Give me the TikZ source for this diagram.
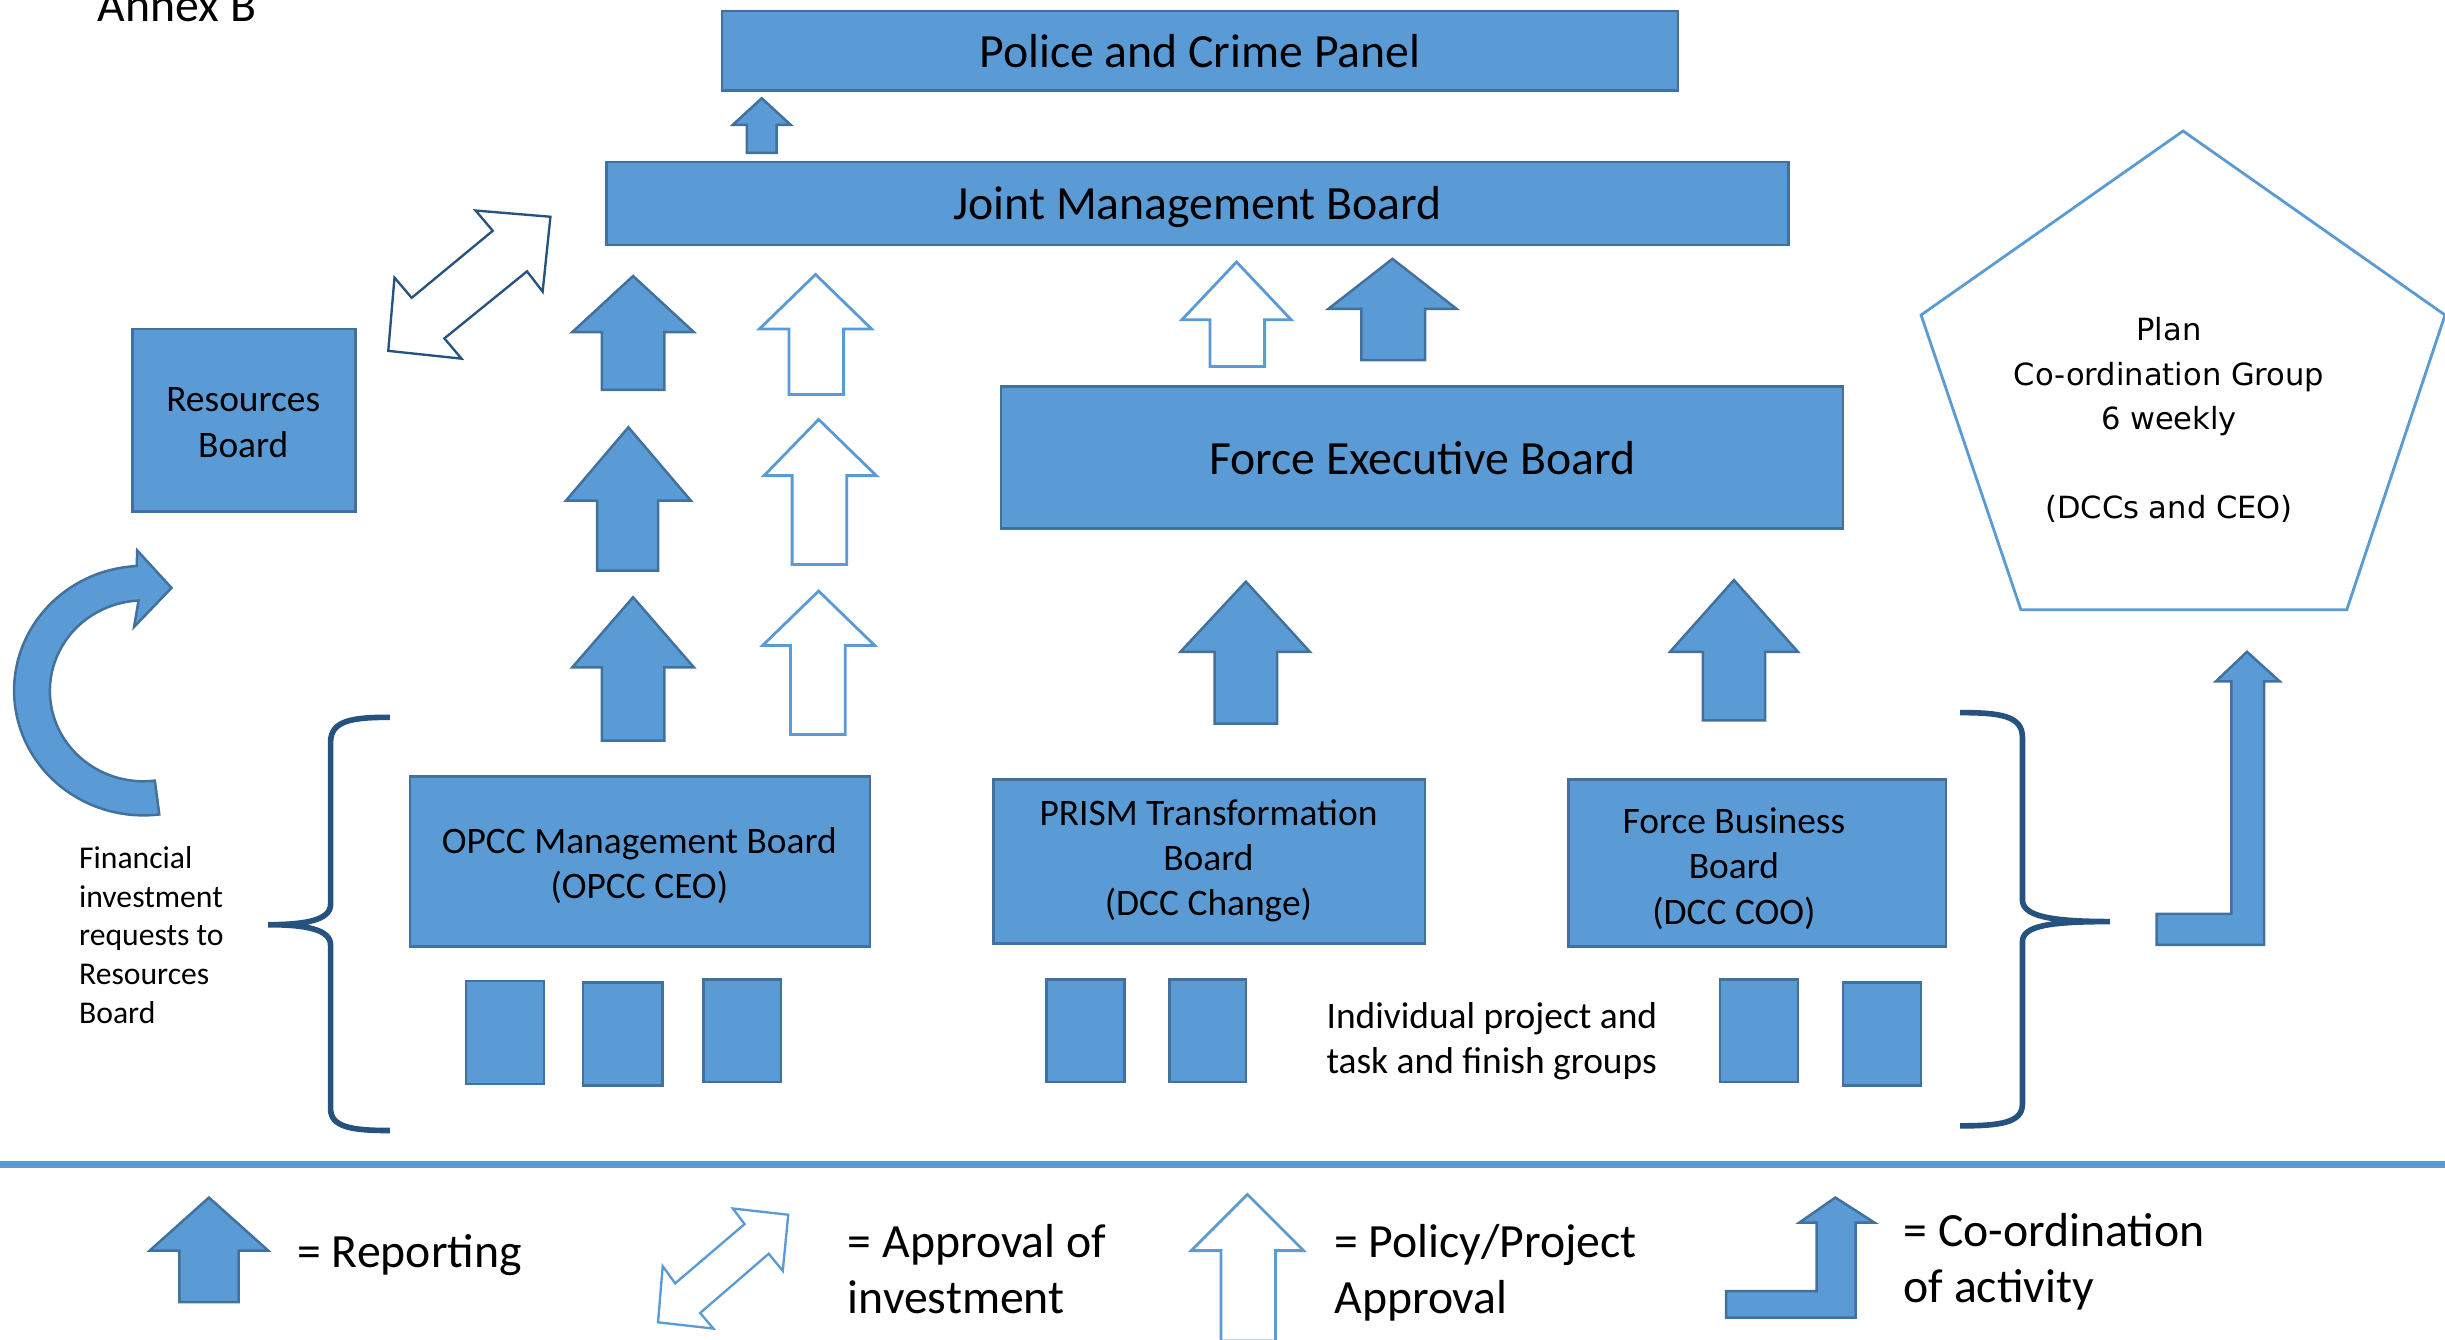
\documentclass[tikz,border=0pt]{standalone}
\usepackage{fontspec}
\setmainfont{Carlito}
\newfontfamily\planfont{DejaVu Sans}

\definecolor{boardblue}{RGB}{91,155,213}
\definecolor{boardedge}{RGB}{65,113,156}
\definecolor{bracenavy}{RGB}{38,82,128}

\tikzset{every picture/.style={line width=0.75pt},
	boardbox/.style={fill=boardblue, draw=boardedge, line width=0.8pt},
	reportarrow/.style={fill=boardblue, draw=boardedge, line width=0.8pt, line join=miter},
	policyarrow/.style={fill=white, draw=boardblue, line width=0.9pt},
	investarrow/.style={fill=white, draw=bracenavy, line width=0.75pt},
	bracket/.style={draw=bracenavy, line width=1.8pt},
	bigtext/.style={inner sep=0pt, font=\fontsize{15.3}{18.6}\selectfont},
	boxtext/.style={inner sep=0pt, align=center, font=\fontsize{12}{14.5}\selectfont},
	notetext/.style={inner sep=0pt, align=left, font=\fontsize{10.15}{12.4}\selectfont},
	keytext/.style={inner sep=0pt, align=left, anchor=west, font=\fontsize{15.3}{18}\selectfont}
}

\begin{document}
\begin{tikzpicture}[x=0.5pt,y=0.5pt,yscale=-1,xscale=1]
	\useasboundingbox (0,0) rectangle (1568,859);

	%Shape: Rectangle [Police and Crime Panel]
	\draw[boardbox] (463,7) rectangle (1076,58);
	%Shape: Rectangle [Joint Management Board]
	\draw[boardbox] (389,104) rectangle (1147,157);
	%Shape: Rectangle [Resources Board]
	\draw[boardbox] (85,211) rectangle (228,328);
	%Shape: Rectangle [Force Executive Board]
	\draw[boardbox] (642,248) rectangle (1182,339);
	%Shape: Rectangle [OPCC]
	\draw[boardbox] (263,498) rectangle (558,607);
	%Shape: Rectangle [PRISM]
	\draw[boardbox] (637,500) rectangle (914,605);
	%Shape: Rectangle [Force Business]
	\draw[boardbox] (1006,500) rectangle (1248,607);

	%Shape: Rectangle [task groups]
	\draw[boardbox] (299,629) rectangle (349,695);
	\draw[boardbox] (374,630) rectangle (425,696);
	\draw[boardbox] (451,628) rectangle (501,694);
	\draw[boardbox] (671,628) rectangle (721,694);
	\draw[boardbox] (750,628) rectangle (799,694);
	\draw[boardbox] (1103,628) rectangle (1153,694);
	\draw[boardbox] (1182,630) rectangle (1232,696);

	%Up Arrow [to panel]
	\draw[reportarrow] (479,98) -- (479,80) -- (470,80) -- (488.5,63) -- (507,80) -- (498,80) -- (498,98) -- cycle;
	%Up Arrow [left column]
	\draw[reportarrow] (386,250) -- (386,213) -- (367,213) -- (406,177) -- (445,213) -- (426,213) -- (426,250) -- cycle;
	\draw[reportarrow] (383,366) -- (383,321) -- (363,321) -- (403,274) -- (443,321) -- (422,321) -- (422,366) -- cycle;
	\draw[reportarrow] (386,475) -- (386,428) -- (367,428) -- (406,383) -- (445,428) -- (426,428) -- (426,475) -- cycle;
	%Up Arrow [hollow column]
	\draw[policyarrow] (506,253) -- (506,211) -- (487,211) -- (523,176) -- (559,211) -- (541,211) -- (541,253) -- cycle;
	\draw[policyarrow] (508,362) -- (508,305) -- (490,305) -- (525,269) -- (562,305) -- (543,305) -- (543,362) -- cycle;
	\draw[policyarrow] (507,471) -- (507,414) -- (489,414) -- (525,379) -- (561,414) -- (542,414) -- (542,471) -- cycle;
	%Up Arrow [above FEB]
	\draw[policyarrow] (776,235) -- (776,205) -- (758,205) -- (793,168) -- (828,205) -- (811,205) -- (811,235) -- cycle;
	\draw[reportarrow] (873,231) -- (873,198) -- (852,198) -- (893,166) -- (934,198) -- (914,198) -- (914,231) -- cycle;
	%Up Arrow [below FEB]
	\draw[reportarrow] (779,464) -- (779,418) -- (757,418) -- (799,373) -- (840,418) -- (819,418) -- (819,464) -- cycle;
	\draw[reportarrow] (1092,462) -- (1092,418) -- (1071,418) -- (1112,372) -- (1153,418) -- (1132,418) -- (1132,462) -- cycle;

	%Left-Right Arrow [resources]
	\draw[investarrow] (305,135) -- (353,139) -- (348,187) -- (338,174) -- (285,217) -- (296,230) -- (249,225) -- (253,178) -- (264,191) -- (316,148) -- cycle;

	%Circular Arrow [financial requests]
	\draw[reportarrow] (87.7,363) arc[start angle=267, end angle=83, x radius=83, y radius=80] -- (99.3,500.6) arc[start angle=83, end angle=267, x radius=60, y radius=58] -- (86,402) -- (110,377) -- (88,353) -- cycle;

	%Bent-Up Arrow [co-ordination]
	\draw[reportarrow] (1383,586) -- (1431,586) -- (1431,437) -- (1421,437) -- (1441,418) -- (1462,437) -- (1452,437) -- (1452,606) -- (1383,606) -- cycle;

	%Shape: Pentagon
	\draw[draw=boardblue, line width=0.9pt] (1400,84) -- (1568,202) -- (1505,391) -- (1296,391) -- (1232,202) -- cycle;

	%Brace [left]
	\draw[bracket] (250,460) .. controls (226,460) and (212,462) .. (212,476) -- (212,580) .. controls (212,590) and (196,593) .. (172,593) .. controls (196,593) and (212,596) .. (212,606) -- (212,711) .. controls (212,723) and (226,725) .. (250,725);
	%Brace [right]
	\draw[bracket] (1257,457) .. controls (1283,457) and (1297,459) .. (1297,473) -- (1297,577) .. controls (1297,587) and (1313,591) .. (1353,591) .. controls (1313,591) and (1297,594) .. (1297,604) -- (1297,708) .. controls (1297,720) and (1283,722) .. (1257,722);

	%Straight Lines [separator]
	\draw[draw=boardblue, line width=2.3pt] (0,747) -- (1568,747);

	%Key shapes
	\draw[reportarrow] (115,835) -- (115,802) -- (96,802) -- (134,768) -- (172,802) -- (153,802) -- (153,835) -- cycle;
	\draw[investarrow, draw=boardblue] (470,775) -- (505.5,779) -- (502,815) -- (493,804) -- (449,842) -- (457.5,852) -- (422,848) -- (425,812) -- (433,823) -- (477.5,785) -- cycle;
	\draw[policyarrow] (783,860) -- (783,802) -- (764,802) -- (800,766) -- (836,802) -- (818,802) -- (818,860) -- cycle;
	\draw[reportarrow] (1107,828) -- (1165,828) -- (1165,784) -- (1154,784) -- (1177,768) -- (1202,784) -- (1190,784) -- (1190,845) -- (1107,845) -- cycle;

	% Text Node
	\node[bigtext, anchor=base west] (annex) at (62,14) {Annex B};
	% Text Node
	\node[bigtext] (panel) at (769.5,33) {Police and Crime Panel};
	% Text Node
	\node[bigtext] (jmb) at (768,133) {Joint Management Board};
	% Text Node
	\node[bigtext] (feb) at (912,294) {Force Executive Board};
	% Text Node
	\node[boxtext] (resources) at (156,271) {Resources\\Board};
	% Text Node
	\node[boxtext] (opcc) at (410,555) {OPCC Management Board\\(OPCC CEO)};
	% Text Node
	\node[boxtext] (prism) at (775,552) {PRISM Transformation\\Board\\(DCC Change)};
	% Text Node
	\node[boxtext] (fbb) at (1112,557) {Force Business\\Board\\(DCC COO)};
	% Text Node
	\node[boxtext, align=left, anchor=west] (groups) at (850,667.5) {Individual project and\\task and finish groups};
	% Text Node
	\node[notetext, anchor=west] (financial) at (50,599.5) {Financial\\investment\\requests to\\Resources\\Board};
	% Text Node
	\node[inner sep=0pt, align=center, font=\planfont\fontsize{9.8}{14.25}\selectfont] (plan) at (1391,269.5) {Plan\\Co-ordination Group\\6 weekly\\[14.25pt](DCCs and CEO)};

	% Text Node
	\node[keytext] (keyreport) at (190,805) {= Reporting};
	% Text Node
	\node[keytext] (keyinvest) at (543,814) {= Approval of\\investment};
	% Text Node
	\node[keytext] (keypolicy) at (855,816) {= Policy/Project\\Approval};
	% Text Node
	\node[keytext] (keycoord) at (1220,809) {= Co-ordination\\of activity};

\end{tikzpicture}
\end{document}
